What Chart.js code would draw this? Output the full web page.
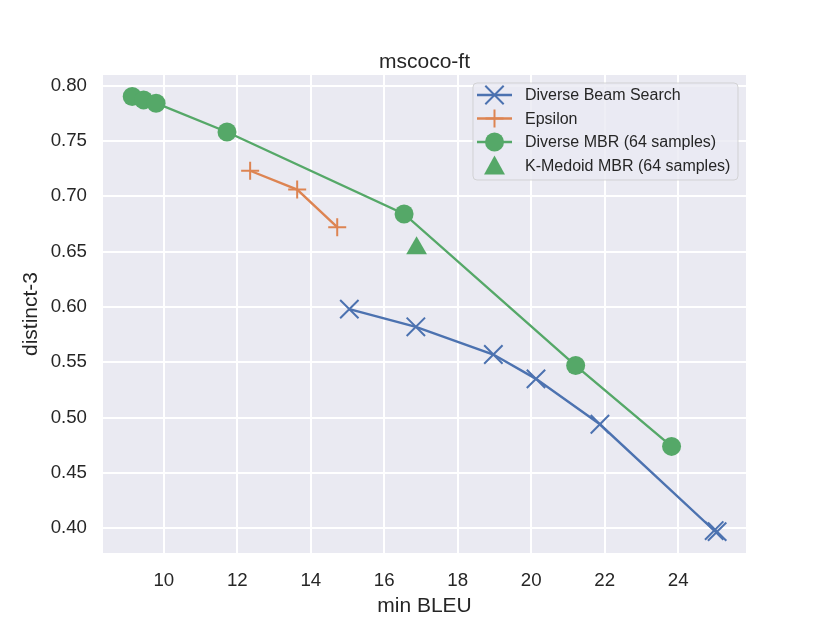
<!DOCTYPE html>
<html>
<head>
<meta charset="utf-8">
<title>mscoco-ft</title>
<script src="https://cdn.jsdelivr.net/npm/chart.js@4.4.1/dist/chart.umd.min.js"></script>
<style>
  html, body { margin: 0; padding: 0; background: #ffffff; }
  #wrap { width: 830px; height: 623px; }
</style>
</head>
<body>
<div id="wrap"><canvas id="mycanvas" width="830" height="623"></canvas></div>
<script>
// values
const chartTitle = 'mscoco-ft';
const xTitle = 'min BLEU';
const yTitle = 'distinct-3';

const seriesNames = ['Diverse Beam Search', 'Epsilon', 'Diverse MBR (64 samples)', 'K-Medoid MBR (64 samples)'];

const dbsBleu     = [15.05, 16.86, 18.97, 20.13, 21.87, 24.98, 25.06];
const dbsDistinct = [0.598, 0.582, 0.557, 0.535, 0.494, 0.398, 0.397];

const epsBleu     = [12.35, 13.63, 14.72];
const epsDistinct = [0.723, 0.706, 0.672];

const mbrBleu     = [9.14, 9.45, 9.79, 11.72, 16.54, 21.21, 23.82];
const mbrDistinct = [0.790, 0.787, 0.784, 0.758, 0.684, 0.547, 0.474];

const kmBleu     = [16.88];
const kmDistinct = [0.653];

const xTicks = [10, 12, 14, 16, 18, 20, 22, 24];
const yTicks = [0.40, 0.45, 0.50, 0.55, 0.60, 0.65, 0.70, 0.75, 0.80];

const colors = ['#4C72B0', '#DD8452', '#55A868', '#55A868'];
const FONT = '"Liberation Sans", Arial, Helvetica, sans-serif';
const TEXT = '#262626';

function pts(xs, ys) {
    return xs.map(function (x, i) { return {x: x, y: ys[i]}; });
}

// marker style per series (used for the plot and the legend)
const markers = [
    {style: 'crossRot', radius: 13, border: 2},
    {style: 'cross', radius: 9, border: 2},
    {style: 'circle', radius: 9.5, border: 0},
    {style: 'triangle', radius: 12, border: 0}
];

const plotBg = {
    id: 'plotBg',
    beforeDraw: function (chart) {
        var a = chart.chartArea, ctx = chart.ctx;
        ctx.save();
        ctx.fillStyle = '#EAEAF2';
        ctx.fillRect(a.left, a.top, a.right - a.left, a.bottom - a.top);
        ctx.restore();
    }
};

function drawMarker(ctx, m, color, x, y) {
    ctx.save();
    ctx.strokeStyle = color;
    ctx.fillStyle = color;
    ctx.lineWidth = m.border || 2;
    ctx.beginPath();
    if (m.style === 'crossRot') {
        var o = Math.cos(Math.PI / 4) * m.radius;
        ctx.moveTo(x - o, y - o); ctx.lineTo(x + o, y + o);
        ctx.moveTo(x - o, y + o); ctx.lineTo(x + o, y - o);
        ctx.stroke();
    } else if (m.style === 'cross') {
        ctx.moveTo(x - m.radius, y); ctx.lineTo(x + m.radius, y);
        ctx.moveTo(x, y - m.radius); ctx.lineTo(x, y + m.radius);
        ctx.stroke();
    } else if (m.style === 'circle') {
        ctx.arc(x, y, m.radius, 0, Math.PI * 2);
        ctx.fill();
    } else {
        var r = m.radius, h = r * 1.5;
        ctx.moveTo(x, y - h / 2 - 1);
        ctx.lineTo(x + r * 0.87, y + h / 2);
        ctx.lineTo(x - r * 0.87, y + h / 2);
        ctx.closePath();
        ctx.fill();
    }
    ctx.restore();
}

const titleAndLegend = {
    id: 'titleAndLegend',
    afterDraw: function (chart) {
        var a = chart.chartArea, ctx = chart.ctx;
        ctx.save();
        // title
        ctx.fillStyle = TEXT;
        ctx.font = '21px ' + FONT;
        ctx.textAlign = 'center';
        ctx.textBaseline = 'alphabetic';
        ctx.fillText(chartTitle, (a.left + a.right) / 2, 68);

        // legend box
        var bx = 473, by = 83, bw = 265, bh = 97, rr = 4;
        ctx.beginPath();
        ctx.moveTo(bx + rr, by);
        ctx.arcTo(bx + bw, by, bx + bw, by + bh, rr);
        ctx.arcTo(bx + bw, by + bh, bx, by + bh, rr);
        ctx.arcTo(bx, by + bh, bx, by, rr);
        ctx.arcTo(bx, by, bx + bw, by, rr);
        ctx.closePath();
        ctx.fillStyle = 'rgba(234,234,242,0.8)';
        ctx.fill();
        ctx.strokeStyle = 'rgba(204,204,204,0.8)';
        ctx.lineWidth = 1;
        ctx.stroke();

        var rows = [95, 118.5, 142, 165.5];
        ctx.font = '16px ' + FONT;
        ctx.textAlign = 'left';
        ctx.textBaseline = 'middle';
        for (var i = 0; i < seriesNames.length; i++) {
            var y = rows[i];
            if (i < 3) {
                ctx.strokeStyle = colors[i];
                ctx.lineWidth = 2.4;
                ctx.beginPath();
                ctx.moveTo(477, y);
                ctx.lineTo(512, y);
                ctx.stroke();
            }
            drawMarker(ctx, markers[i], colors[i], 494.5, y);
            ctx.fillStyle = TEXT;
            ctx.fillText(seriesNames[i], 525, y + 1);
        }
        ctx.restore();
    }
};

function dataset(i, xs, ys, line, order) {
    return {
        label: seriesNames[i],
        data: pts(xs, ys),
        showLine: line,
        borderColor: colors[i],
        backgroundColor: colors[i],
        borderWidth: 2.4,
        pointStyle: markers[i].style,
        pointRadius: markers[i].radius,
        pointHoverRadius: markers[i].radius,
        pointBorderWidth: markers[i].border,
        pointBorderColor: colors[i],
        pointBackgroundColor: colors[i],
        order: order
    };
}

var ctx_live = document.getElementById('mycanvas');
var myChart = new Chart(ctx_live, {
    type: 'scatter',
    data: {
        datasets: [
            dataset(0, dbsBleu, dbsDistinct, true, 4),
            dataset(1, epsBleu, epsDistinct, true, 3),
            dataset(2, mbrBleu, mbrDistinct, true, 2),
            dataset(3, kmBleu, kmDistinct, false, 1)
        ]
    },
    options: {
        responsive: false,
        animation: false,
        layout: { padding: { left: 0, right: 84, top: 75, bottom: 0 } },
        plugins: {
            legend: { display: false },
            title: { display: false },
            tooltip: { enabled: false }
        },
        scales: {
            x: {
                type: 'linear',
                min: 8.345,
                max: 25.846,
                afterFit: function (scale) { scale.height = 70; },
                afterBuildTicks: function (scale) {
                    scale.ticks = xTicks.map(function (v) { return {value: v}; });
                },
                border: { display: false },
                grid: { color: '#ffffff', lineWidth: 2, drawTicks: false },
                ticks: {
                    color: TEXT,
                    padding: 17,
                    maxRotation: 0,
                    font: { family: FONT, size: 18.7 },
                    callback: function (v) { return String(v); }
                },
                title: {
                    display: true,
                    text: xTitle,
                    color: TEXT,
                    font: { family: FONT, size: 21 },
                    padding: { top: 0, bottom: 4.5 }
                }
            },
            y: {
                type: 'linear',
                min: 0.3777,
                max: 0.8095,
                afterFit: function (scale) { scale.width = 103; },
                afterBuildTicks: function (scale) {
                    scale.ticks = yTicks.map(function (v) { return {value: v}; });
                },
                border: { display: false },
                grid: { color: '#ffffff', lineWidth: 2, drawTicks: false },
                ticks: {
                    color: TEXT,
                    padding: 16,
                    font: { family: FONT, size: 18.7 },
                    callback: function (v) { return Number(v).toFixed(2); }
                },
                title: {
                    display: true,
                    text: yTitle,
                    color: TEXT,
                    font: { family: FONT, size: 21 },
                    padding: { top: 19, bottom: 0 }
                }
            }
        }
    },
    plugins: [plotBg, titleAndLegend]
});

myChart.update();
</script>
</body>
</html>
